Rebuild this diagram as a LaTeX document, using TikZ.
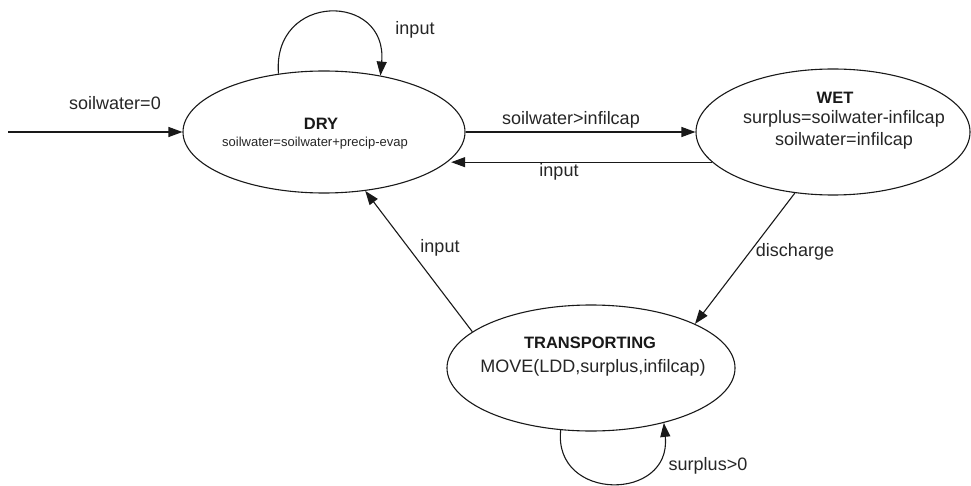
\documentclass[tikz,border=0pt]{standalone}
\usepackage{fontspec}
\setmainfont{Liberation Sans}
\usetikzlibrary{shapes.geometric,arrows.meta}
\begin{document}
\begin{tikzpicture}[x=1pt,y=-1pt,
  state/.style={draw=black!90,line width=1.1pt,ellipse,inner sep=0pt},
  arr/.style={draw=black!90,line width=1.1pt,-{Triangle[length=14pt,width=10pt]}},
  lbl/.style={font=\fontsize{18}{22}\selectfont,text=black!85,inner sep=0pt},
  ttl/.style={font=\fontsize{16.5}{20}\selectfont\bfseries,text=black!90,inner sep=0pt},
  body/.style={font=\fontsize{18}{22}\selectfont,text=black!85,inner sep=0pt,align=center}]
\useasboundingbox (0,0) rectangle (971,486);
\fill[white] (0,0) rectangle (971,486);
% states
\node[state,minimum width=282pt,minimum height=122pt] (dry) at (324,132) {};
\node[state,minimum width=274pt,minimum height=126pt] (wet) at (833,132) {};
\node[state,minimum width=288pt,minimum height=126pt] (trans) at (591,368) {};
% state texts
\node[ttl] (drytitle) at (321,124) {DRY};
\node[font=\fontsize{13}{15}\selectfont,text=black!85,inner sep=0pt] (drybody) at (315,143) {soilwater=soilwater+precip-evap};
\node[ttl] (wettitle) at (835,98) {WET};
\node[body] (wetbody) at (844,130) {surplus=soilwater-infilcap\\soilwater=infilcap};
\node[ttl] (transtitle) at (590,343) {TRANSPORTING};
\node[body] (transbody) at (593,368) {MOVE(LDD,surplus,infilcap)};
% initial
\coordinate (start) at (8,132);
\draw[arr] (start) -- (dry.west);
\node[lbl] (l0) at (115,103) {soilwater=0};
% dry self loop
\draw[arr] (dry.128) .. controls (272,-8) and (388,-8) .. (dry.45);
\node[lbl] (l1) at (415,30) {input};
% dry -> wet
\draw[arr] (dry.east) -- (wet.west);
\node[lbl] (l2) at (571,120) {soilwater>infilcap};
% wet -> dry
\draw[arr] (wet.194) -- (dry.-12 |- wet.194);
\node[lbl] (l3) at (559,172) {input};
% wet -> trans
\draw[arr] (wet.238) -- (trans.23);
\node[lbl] (l4) at (795,252) {discharge};
% trans -> dry
\draw[arr] (trans.163) -- (dry.-55);
\node[lbl] (l5) at (440,248) {input};
% trans self loop
\draw[arr] (trans.244) .. controls (553,502) and (672,502) .. (trans.-37);
\node[lbl] (l6) at (708,466) {surplus>0};
\end{tikzpicture}
\end{document}
